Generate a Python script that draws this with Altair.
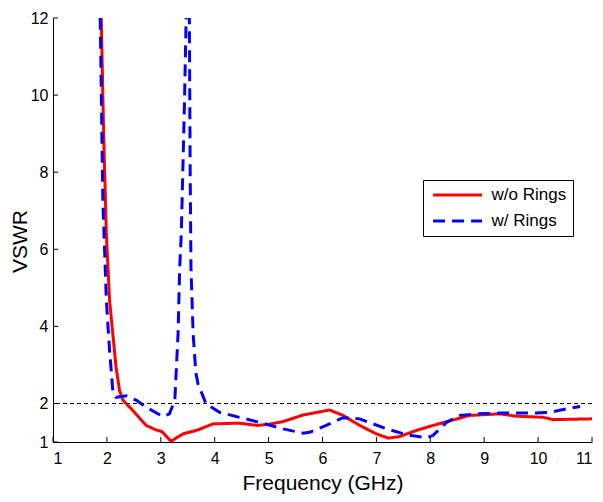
import altair as alt
import pandas as pd

# ---- data ----
freq_red = [1.89, 1.895, 1.94, 1.99, 2.05, 2.11, 2.17, 2.235, 2.30, 2.48, 2.73, 2.90, 3.02,
            3.19, 3.41, 3.66, 3.97, 4.46, 4.80, 5.00, 5.27, 5.64, 6.13, 6.38, 6.69, 7.00,
            7.22, 7.43, 7.74, 8.05, 8.42, 8.73, 9.29, 9.60, 10.10, 10.28, 10.96, 11.0]
vswr_red = [12.3, 12.0, 8.98, 6.39, 4.67, 3.80, 2.94, 2.33, 2.08, 1.82, 1.43, 1.32, 1.27,
            1.02, 1.21, 1.30, 1.47, 1.49, 1.43, 1.46, 1.53, 1.70, 1.83, 1.69, 1.43, 1.21,
            1.10, 1.14, 1.30, 1.43, 1.57, 1.69, 1.73, 1.67, 1.64, 1.58, 1.60, 1.60]

freq_blue = [1.86, 1.876, 1.925, 1.99, 2.05, 2.11, 2.17, 2.36, 2.55, 2.73, 3.04, 3.16,
             3.26, 3.32, 3.35, 3.38, 3.44, 3.47, 3.50, 3.53, 3.545, 3.56, 3.60, 3.65, 3.69,
             3.84, 4.09, 4.46, 4.83, 5.27, 5.64, 5.76, 6.07, 6.38, 6.69, 7.19, 7.56, 7.93,
             8.05, 8.30, 8.55, 8.86, 9.29, 9.91, 10.22, 10.53, 10.78]
vswr_blue = [12.5, 12.0, 7.26, 4.67, 3.37, 2.33, 2.16, 2.20, 2.08, 1.90, 1.66, 1.73,
             2.08, 3.80, 5.50, 6.39, 9.85, 12.0, 16.0, 12.0, 8.0, 5.5, 3.80, 2.80, 2.51,
             1.99, 1.77, 1.64, 1.51, 1.34, 1.23, 1.25, 1.43, 1.63, 1.60, 1.34, 1.19, 1.11,
             1.17, 1.51, 1.69, 1.73, 1.75, 1.75, 1.77, 1.86, 1.92]

series_names = ["w/o Rings", "w/ Rings"]
series_colors = ["#ff0000", "#0000ff"]
series_dashes = [[1, 0], [12, 7]]
x_ticks = [1, 2, 3, 4, 5, 6, 7, 8, 9, 10, 11]
y_ticks = [1, 2, 4, 6, 8, 10, 12]
threshold = [2]

rows = []
for name, fs, vs in [(series_names[0], freq_red, vswr_red), (series_names[1], freq_blue, vswr_blue)]:
    for i, (f, v) in enumerate(zip(fs, vs)):
        rows.append({"series": name, "freq": f, "vswr": v, "order": i})
df = pd.DataFrame(rows)

W, H = 539, 424
FONT = "Liberation Sans"
xscale = alt.Scale(domain=[1, 11], nice=False, zero=False)
yscale = alt.Scale(domain=[1, 12], nice=False, zero=False)
x_axis = alt.Axis(values=x_ticks, title="Frequency (GHz)", labelPadding=8,
                  titleY=47, titleBaseline="alphabetic")
y_axis = alt.Axis(values=y_ticks, title="VSWR", labelPadding=5,
                  titleX=-27, titleY=223, titleBaseline="alphabetic")
legend = alt.Legend(title=None, orient="none", legendX=370, legendY=162)

lines = alt.Chart(df).mark_line(clip=True, strokeWidth=3).encode(
    x=alt.X("freq:Q", scale=xscale, axis=x_axis),
    y=alt.Y("vswr:Q", scale=yscale, axis=y_axis),
    color=alt.Color("series:N", scale=alt.Scale(domain=series_names, range=series_colors),
                    legend=legend),
    strokeDash=alt.StrokeDash("series:N", scale=alt.Scale(domain=series_names, range=series_dashes),
                              legend=legend),
    order="order:Q",
)

thr = alt.Chart(pd.DataFrame({"vswr": threshold})).mark_rule(
    color="black", strokeDash=[4, 3], strokeWidth=1
).encode(y=alt.Y("vswr:Q", scale=yscale, axis=y_axis))

xt = alt.Chart(pd.DataFrame({"freq": x_ticks})).mark_rule(color="black", strokeWidth=1).encode(
    x=alt.X("freq:Q", scale=xscale, axis=x_axis), y=alt.value(H), y2=alt.value(H - 5))

yt = alt.Chart(pd.DataFrame({"vswr": y_ticks})).mark_rule(color="black", strokeWidth=1).encode(
    y=alt.Y("vswr:Q", scale=yscale, axis=y_axis), x=alt.value(0), x2=alt.value(5))

chart = alt.layer(lines, thr, xt, yt).properties(
    width=W, height=H, autosize="none",
    padding={"left": 45, "top": 10, "right": 2, "bottom": 52},
).configure_view(stroke=None).configure_axis(
    grid=False, ticks=False, domainColor="black", domainWidth=1,
    labelColor="black", labelFont=FONT, labelFontSize=16,
    titleColor="black", titleFont=FONT, titleFontSize=21, titleFontWeight="normal",
).configure_legend(
    symbolType="M-1,0H9", symbolSize=96, symbolStrokeWidth=3,
    labelFont=FONT, labelFontSize=17, labelColor="black", labelOffset=45,
    strokeColor="black", fillColor="white", padding=6.5, rowPadding=8, labelLimit=300,
)

chart.save("out.html", embed_options={"renderer": "svg", "actions": False})
